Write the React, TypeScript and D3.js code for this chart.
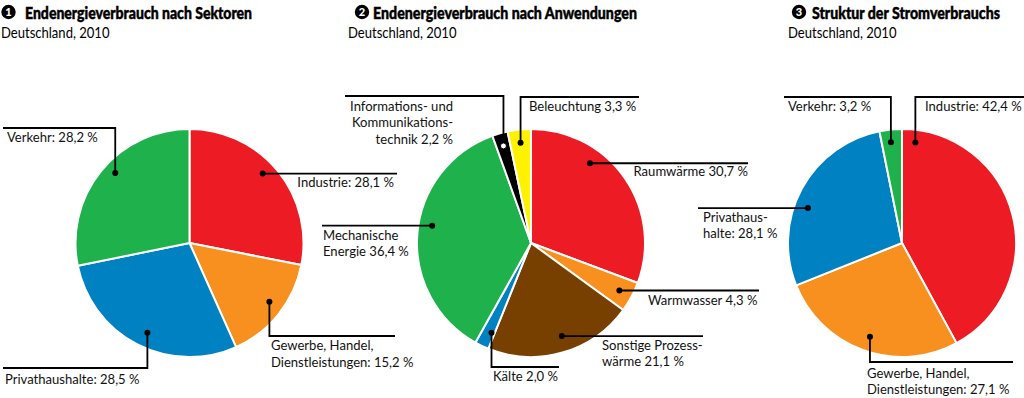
import React from "react";
import * as d3 from "d3";

// ---------- DATA ----------
const sektorenCats = ["Industrie", "Gewerbe, Handel, Dienstleistungen", "Privathaushalte", "Verkehr"];
const sektorenValues = [28.1, 15.2, 28.5, 28.2];
const sektorenLabels = [["Industrie: 28,1 %"], ["Gewerbe, Handel,", "Dienstleistungen: 15,2 %"], ["Privathaushalte:  28,5 %"], ["Verkehr: 28,2 %"]];

const anwendCats = ["Raumwärme", "Warmwasser", "Sonstige Prozesswärme", "Kälte", "Mechanische Energie", "IKT", "Beleuchtung"];
const anwendValues = [30.7, 4.3, 21.1, 2.0, 36.4, 2.2, 3.3];
const anwendLabels = [
  ["Raumwärme 30,7 %"],
  ["Warmwasser 4,3 %"],
  ["Sonstige Prozess-", "wärme 21,1 %"],
  ["Kälte 2,0 %"],
  ["Mechanische", "Energie 36,4 %"],
  ["Informations- und", "Kommunikations-", "technik 2,2 %"],
  ["Beleuchtung 3,3 %"],
];

const stromCats = ["Industrie", "Gewerbe, Handel, Dienstleistungen", "Privathaushalte", "Verkehr"];
const stromValues = [42.4, 27.1, 28.1, 3.2];
const stromLabels = [["Industrie: 42,4 %"], ["Gewerbe, Handel,", "Dienstleistungen: 27,1 %"], ["Privathaus-", "halte:  28,1 %"], ["Verkehr: 3,2 %"]];

const titles = ["Endenergieverbrauch nach Sektoren", "Endenergieverbrauch nach Anwendungen", "Struktur der Stromverbrauchs"];
const subtitle = "Deutschland, 2010";

// ---------- STYLE ----------
const RED = "#ED1C24", ORANGE = "#F7901E", BLUE = "#0081C2", GREEN = "#1FB14C", BROWN = "#784000", YELLOW = "#FFF200", BLACK = "#000000";
const sektorenColors = [RED, ORANGE, BLUE, GREEN];
const anwendColors = [RED, ORANGE, BROWN, BLUE, GREEN, BLACK, YELLOW];
const stromColors = [RED, ORANGE, BLUE, GREEN];

const FONT = "Lato, 'Open Sans', sans-serif";
const R = 114;
const CY = 243;
const LABEL_SX = 0.99;
const LH = 16.5;

type LL = { t: number; rf: number; mode: "h" | "v"; ey?: number; x2: number; tx: number; ty: number; anchor: "start" | "end"; dotFill?: string };

const pies = [
  {
    cx: 189.5, values: sektorenValues, cats: sektorenCats, labels: sektorenLabels, colors: sektorenColors,
    title: titles[0], num: "1", circleX: 8.5, titleX: 25, titleW: 227, subX: 1,
    layout: [
      { t: 0.46, rf: 0.885, mode: "h", x2: 397, tx: 394, ty: 187, anchor: "end" },
      { t: 0.46, rf: 0.87, mode: "v", ey: 336, x2: 395, tx: 271, ty: 350, anchor: "start" },
      { t: 0.48, rf: 0.87, mode: "v", ey: 368, x2: 3, tx: 5, ty: 384, anchor: "start" },
      { t: 0.54, rf: 0.895, mode: "v", ey: 128, x2: 3, tx: 7, ty: 142, anchor: "start" },
    ] as LL[],
  },
  {
    cx: 531, values: anwendValues, cats: anwendCats, labels: anwendLabels, colors: anwendColors,
    title: titles[1], num: "2", circleX: 362, titleX: 373, titleW: 264, subX: 348,
    layout: [
      { t: 0.33, rf: 0.87, mode: "h", x2: 748, tx: 748, ty: 176, anchor: "end" },
      { t: 0.5, rf: 0.88, mode: "h", x2: 759, tx: 648, ty: 304.5, anchor: "start" },
      { t: 0.47, rf: 0.86, mode: "h", x2: 703, tx: 602, ty: 349.5, anchor: "start" },
      { t: 0.25, rf: 0.86, mode: "v", ey: 367, x2: 559, tx: 493, ty: 381, anchor: "start" },
      { t: 0.54, rf: 0.88, mode: "h", x2: 322, tx: 323, ty: 239.5, anchor: "start" },
      { t: 0.5, rf: 0.885, mode: "v", ey: 96, x2: 345, tx: 453, ty: 110.5, anchor: "end", dotFill: "#fff" },
      { t: 0.5, rf: 0.885, mode: "v", ey: 97, x2: 639, tx: 529, ty: 110.5, anchor: "start" },
    ] as LL[],
  },
  {
    cx: 902, values: stromValues, cats: stromCats, labels: stromLabels, colors: stromColors,
    title: titles[2], num: "3", circleX: 799, titleX: 812, titleW: 188, subX: 788,
    layout: [
      { t: 0.05, rf: 0.89, mode: "v", ey: 97, x2: 1024, tx: 925, ty: 110.5, anchor: "start" },
      { t: 0.49, rf: 0.87, mode: "v", ey: 362, x2: 1013, tx: 867, ty: 377.5, anchor: "start" },
      { t: 0.42, rf: 0.88, mode: "h", x2: 698, tx: 703, ty: 221.5, anchor: "start" },
      { t: 0.45, rf: 0.89, mode: "v", ey: 97, x2: 784, tx: 788, ty: 110.5, anchor: "start" },
    ] as LL[],
  },
];

const pieGen = d3.pie<number>().sort(null).value((d) => d).startAngle(0).endAngle(2 * Math.PI);
const arcGen = d3.arc<d3.PieArcDatum<number>>().innerRadius(0).outerRadius(R);

function Title({ p }: { p: typeof pies[number] }) {
  return (
    <g>
      <circle cx={p.circleX} cy={12} r={7.2} fill="#000" />
      <text x={p.circleX} y={16} textAnchor="middle" fill="#fff" fontFamily={FONT} fontWeight={900} fontSize={11}>{p.num}</text>
      <text x={p.titleX} y={18.5} textLength={p.titleW} lengthAdjust="spacingAndGlyphs" fontFamily={FONT} fontWeight={900} fontSize={16} fill="#000" stroke="#000" strokeWidth={0.45}>{p.title}</text>
      <text transform={`translate(${p.subX},38) scale(0.9,1)`} fontFamily={FONT} fontSize={14.5} fill="#000">{subtitle}</text>
    </g>
  );
}

function Pie({ p }: { p: typeof pies[number] }) {
  const arcs = pieGen(p.values);
  return (
    <g>
      <g transform={`translate(${p.cx},${CY})`}>
        {arcs.map((a, i) => (
          <path key={p.cats[i]} d={arcGen(a) || ""} fill={p.colors[i]} stroke="#fff" strokeWidth={2} strokeLinejoin="round" />
        ))}
      </g>
      {arcs.map((a, i) => {
        const L = p.layout[i];
        const ang = a.startAngle + L.t * (a.endAngle - a.startAngle);
        const dx = p.cx + L.rf * R * Math.sin(ang);
        const dy = CY - L.rf * R * Math.cos(ang);
        const path = L.mode === "h" ? `M${dx},${dy}H${L.x2}` : `M${dx},${dy}V${L.ey}H${L.x2}`;
        return (
          <g key={"l" + i}>
            <path d={path} fill="none" stroke="#000" strokeWidth={1.8} />
            <circle cx={dx} cy={dy} r={3} fill={L.dotFill || "#000"} stroke={L.dotFill ? "#000" : "none"} strokeWidth={1} />
            {p.labels[i].map((line, j) => (
              <text key={j} transform={`translate(${L.tx},${L.ty + j * LH}) scale(${LABEL_SX},1)`} textAnchor={L.anchor} fontFamily={FONT} fontSize={13.2} fill="#111">{line}</text>
            ))}
          </g>
        );
      })}
    </g>
  );
}

export default function App() {
  return (
    <svg width={1024} height={398} style={{ position: "absolute", left: 0, top: 0, background: "#fff" }}>
      <rect width={1024} height={398} fill="#fff" />
      {pies.map((p) => (
        <g key={p.num}>
          <Title p={p} />
          <Pie p={p} />
        </g>
      ))}
    </svg>
  );
}
